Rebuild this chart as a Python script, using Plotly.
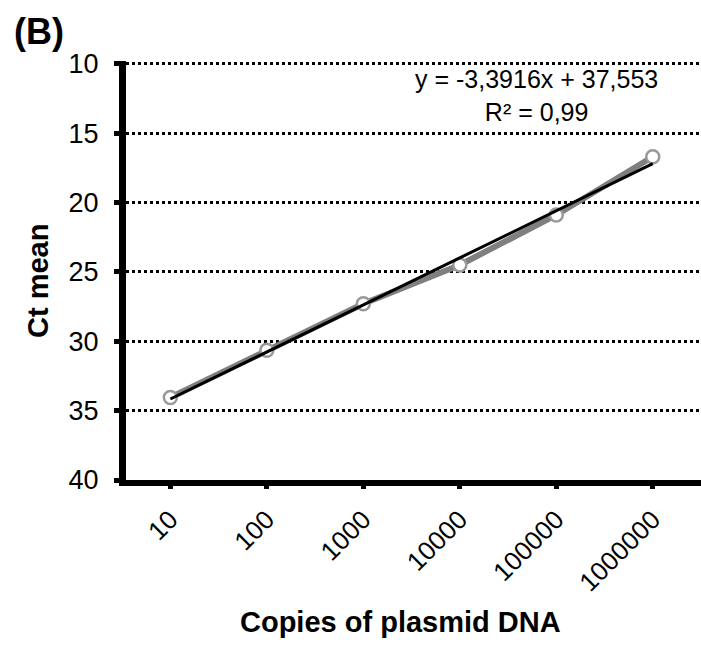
import plotly.graph_objects as go

categories = ["10", "100", "1000", "10000", "100000", "1000000"]
ct_mean = [34.05, 30.65, 27.3, 24.5, 20.9, 16.7]
slope = -3.3916
intercept = 37.553
trend = [slope * (i + 1) + intercept for i in range(len(categories))]
y_ticks = [10, 15, 20, 25, 30, 35, 40]

W, H = 701, 645
L, R, T, B = 126, 0, 61, 165

fig = go.Figure()
fig.add_trace(go.Scatter(
    x=categories, y=ct_mean, mode="lines+markers",
    line=dict(color="#7f7f7f", width=6),
    marker=dict(symbol="circle", size=13, color="white",
                line=dict(color="#999999", width=2.5)),
    showlegend=False))
fig.add_trace(go.Scatter(
    x=categories, y=trend, mode="lines",
    line=dict(color="black", width=3), showlegend=False))

font = "Liberation Sans, Arial, sans-serif"
pw, ph = W - L - R, H - T - B


def px(x):
    return (x - L) / pw


def py(y):
    return 1 - (y - T) / ph


fig.update_layout(
    width=W, height=H,
    margin=dict(l=L, r=R, t=T, b=B, autoexpand=False),
    paper_bgcolor="white", plot_bgcolor="white",
    font=dict(family=font, color="black"),
    xaxis=dict(type="category", range=[-0.46, 5.5], automargin=False,
               showline=True, linecolor="black", linewidth=6,
               ticks="outside", ticklen=3, tickwidth=5, tickcolor="black",
               tickangle=-45, tickfont=dict(size=26),
               ticklabelstandoff=5,
               showgrid=False, zeroline=False),
    yaxis=dict(range=[40, 9.8], tickvals=y_ticks, automargin=False,
               showline=True, linecolor="black", linewidth=7,
               ticks="outside", ticklen=5, tickwidth=5, tickcolor="black",
               tickfont=dict(size=27), ticklabelstandoff=10,
               showgrid=True, gridcolor="black", gridwidth=3, griddash="dot",
               zeroline=False),
    annotations=[
        dict(text="y = -3,3916x + 37,553<br>R² = 0,99",
             x=px(536), y=py(96), xref="paper", yref="paper",
             xanchor="center", yanchor="middle", showarrow=False,
             font=dict(size=25)),
        dict(text="<b>(B)</b>", x=px(12), y=py(31), xref="paper", yref="paper",
             xanchor="left", yanchor="middle", showarrow=False,
             font=dict(size=36)),
        dict(text="<b>Copies of plasmid DNA</b>", x=px(400), y=py(622),
             xref="paper", yref="paper", xanchor="center", yanchor="middle",
             showarrow=False, font=dict(size=29)),
        dict(text="<b>Ct mean</b>", x=px(38), y=py(281), textangle=-90,
             xref="paper", yref="paper", xanchor="center", yanchor="middle",
             showarrow=False, font=dict(size=29)),
    ],
)
fig.write_html("out.html", post_script="document.body.style.margin='0';",
               config={"displayModeBar": False})
